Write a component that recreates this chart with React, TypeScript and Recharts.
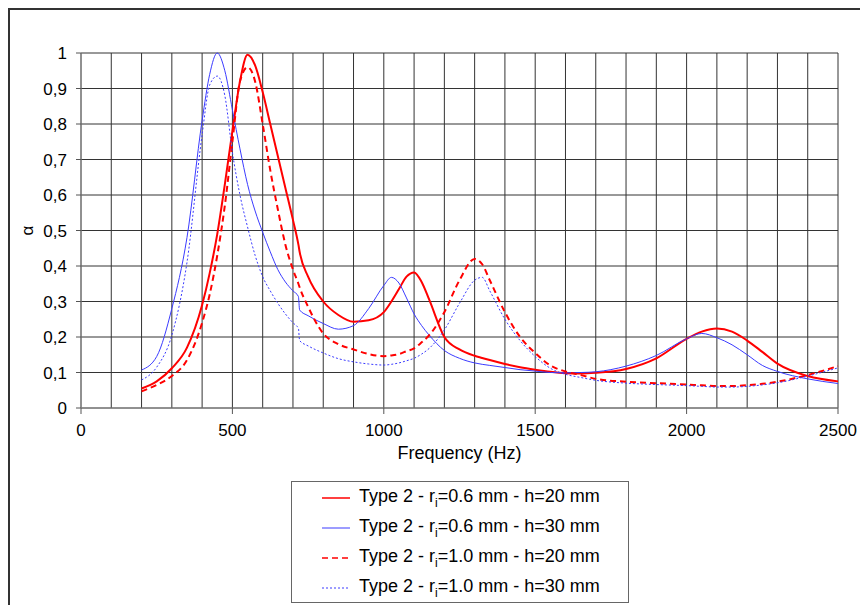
import React from 'react';
import { LineChart, Line, XAxis, YAxis, CartesianGrid } from 'recharts';

// frequency points (Hz) shared by all four curves
const freqs = [
  200, 250, 300, 350, 400, 425, 450, 475, 500, 525, 550, 575, 600, 625, 650, 675, 700, 718, 722, 750,
  800, 850, 900, 950, 1000, 1025, 1050, 1075, 1100, 1125, 1150, 1200, 1250, 1300, 1325, 1350, 1400, 1450,
  1500, 1550, 1600, 1650, 1700, 1800, 1900, 2000, 2050, 2100, 2150, 2200, 2250, 2300, 2400, 2500,
];

// Type 2 - ri=0.6 mm - h=20 mm
const r06h20 = [
  0.055, 0.075, 0.112, 0.17, 0.29, 0.38, 0.49, 0.63, 0.78, 0.92, 0.995, 0.965, 0.89, 0.8, 0.71, 0.62, 0.53, 0.46, 0.44, 0.37,
  0.3, 0.262, 0.243, 0.247, 0.27, 0.3, 0.335, 0.37, 0.382, 0.355, 0.305, 0.2, 0.165, 0.147, 0.141, 0.135, 0.124, 0.115,
  0.108, 0.102, 0.098, 0.097, 0.099, 0.11, 0.14, 0.195, 0.215, 0.224, 0.215, 0.19, 0.158, 0.125, 0.09, 0.075,
];

// Type 2 - ri=0.6 mm - h=30 mm
const r06h30 = [
  0.107, 0.145, 0.28, 0.48, 0.81, 0.94, 1.0, 0.95, 0.84, 0.73, 0.63, 0.555, 0.495, 0.44, 0.39, 0.355, 0.33, 0.314, 0.276, 0.26,
  0.238, 0.222, 0.232, 0.28, 0.345, 0.368, 0.352, 0.31, 0.265, 0.232, 0.205, 0.162, 0.14, 0.127, 0.123, 0.12, 0.114, 0.108,
  0.104, 0.1, 0.099, 0.1, 0.102, 0.118, 0.148, 0.195, 0.21, 0.198, 0.178, 0.15, 0.12, 0.103, 0.082, 0.069,
];

// Type 2 - ri=1.0 mm - h=20 mm
const r10h20 = [
  0.047, 0.065, 0.09, 0.135, 0.24, 0.32, 0.43, 0.57, 0.75, 0.92, 0.96, 0.92, 0.8, 0.67, 0.56, 0.46, 0.39, 0.35, 0.34, 0.285,
  0.21, 0.18, 0.165, 0.152, 0.146, 0.148, 0.152, 0.16, 0.168, 0.185, 0.205, 0.27, 0.36, 0.42, 0.405, 0.36, 0.27, 0.2,
  0.155, 0.12, 0.103, 0.093, 0.082, 0.074, 0.07, 0.066, 0.064, 0.062, 0.062, 0.064, 0.068, 0.074, 0.093, 0.118,
];

// Type 2 - ri=1.0 mm - h=30 mm
const r10h30 = [
  0.079, 0.115, 0.205, 0.41, 0.77, 0.91, 0.935, 0.88, 0.72, 0.6, 0.51, 0.43, 0.37, 0.33, 0.295, 0.265, 0.24, 0.224, 0.19, 0.175,
  0.155, 0.139, 0.13, 0.124, 0.121, 0.123, 0.127, 0.133, 0.14, 0.152, 0.168, 0.22, 0.295, 0.36, 0.368, 0.33, 0.25, 0.19,
  0.145, 0.112, 0.095, 0.086, 0.078, 0.07, 0.066, 0.063, 0.061, 0.059, 0.059, 0.061, 0.065, 0.071, 0.09, 0.113,
];

const xTicks = [
  0, 100, 200, 300, 400, 500, 600, 700, 800, 900, 1000, 1100, 1200, 1300, 1400, 1500, 1600, 1700, 1800, 1900,
  2000, 2100, 2200, 2300, 2400, 2500,
];
const yTicks = [0, 0.1, 0.2, 0.3, 0.4, 0.5, 0.6, 0.7, 0.8, 0.9, 1];

const FONT = '"Liberation Sans", Arial, sans-serif';
const RED = '#ff0000';
const BLUE = '#3b3bff';

const series = [
  { key: 'r06h20', ri: '0.6', h: '20', color: RED, width: 2, dash: undefined },
  { key: 'r06h30', ri: '0.6', h: '30', color: BLUE, width: 1, dash: undefined },
  { key: 'r10h20', ri: '1.0', h: '20', color: RED, width: 2, dash: '6 4' },
  { key: 'r10h30', ri: '1.0', h: '30', color: BLUE, width: 1, dash: '2 2' },
];

const data = freqs.map((f, i) => ({
  f,
  r06h20: r06h20[i],
  r06h30: r06h30[i],
  r10h20: r10h20[i],
  r10h30: r10h30[i],
}));

const XTick = (props: any) => {
  const { x, y, payload } = props;
  if (payload.value % 500 !== 0) return <g />;
  return (
    <g>
      <line x1={x} x2={x} y1={y - 16} y2={y - 10} stroke="#555" />
      <text x={x} y={y} dy="0.71em" textAnchor="middle" fill="#000" fontSize={17} fontFamily={FONT}>
        {payload.value}
      </text>
    </g>
  );
};

export default function App() {
  return (
    <div
      style={{
        position: 'relative',
        width: 860,
        height: 597,
        borderLeft: '2px solid #333',
        borderTop: '2px solid #333',
        boxSizing: 'border-box',
        fontFamily: FONT,
      }}
    >
      <LineChart width={858} height={595} data={data} margin={{ top: 43, right: 30, left: 0, bottom: 137 }}>
        <CartesianGrid stroke="#333" />
        <XAxis
          dataKey="f"
          type="number"
          domain={[0, 2500]}
          ticks={xTicks}
          interval={0}
          height={60}
          tickSize={6}
          tickMargin={10}
          tickLine={false}
          axisLine={{ stroke: '#888' }}
          tick={XTick}
          label={{
            content: ({ viewBox }: any) => (
              <text
                x={viewBox.x + viewBox.width / 2}
                y={viewBox.y + 51}
                textAnchor="middle"
                fontSize={18}
                fontFamily={FONT}
                fill="#000"
              >
                Frequency (Hz)
              </text>
            ),
          }}
        />
        <YAxis
          type="number"
          domain={[0, 1]}
          ticks={yTicks}
          interval={0}
          width={71}
          tickSize={5}
          tickMargin={9}
          tickLine={{ stroke: '#555' }}
          axisLine={{ stroke: '#888' }}
          tick={{ fill: '#000', fontSize: 17, fontFamily: FONT }}
          tickFormatter={(v: number) => String(v).replace('.', ',')}
          label={{
            content: ({ viewBox }: any) => {
              const cx = viewBox.x + 17;
              const cy = viewBox.y + viewBox.height / 2;
              return (
                <text
                  x={cx}
                  y={cy}
                  dy="0.35em"
                  textAnchor="middle"
                  fontSize={17}
                  fontFamily={FONT}
                  fill="#000"
                  transform={`rotate(-90, ${cx}, ${cy})`}
                >
                  α
                </text>
              );
            },
          }}
        />
        {series.map((s) => (
          <Line
            key={s.key}
            type="monotone"
            dataKey={s.key}
            stroke={s.color}
            strokeWidth={s.width}
            strokeDasharray={s.dash}
            dot={false}
            activeDot={false}
            isAnimationActive={false}
          />
        ))}
      </LineChart>

      <div
        style={{
          position: 'absolute',
          left: 281,
          top: 471,
          width: 338,
          height: 122,
          border: '1px solid #666',
          boxSizing: 'border-box',
          paddingTop: 1,
        }}
      >
        {series.map((s) => (
          <div key={s.key} style={{ height: 30, display: 'flex', alignItems: 'center', fontSize: 18, color: '#000' }}>
            <svg width={28} height={10} style={{ marginLeft: 30, marginRight: 9 }}>
              <line x1={0} x2={28} y1={5} y2={5} stroke={s.color} strokeWidth={s.width === 2 ? 1.5 : 1} strokeDasharray={s.dash} />
            </svg>
            <span style={{ whiteSpace: 'nowrap' }}>
              Type 2 - r<sub style={{ fontSize: 12 }}>i</sub>={s.ri} mm - h={s.h} mm
            </span>
          </div>
        ))}
      </div>
    </div>
  );
}
